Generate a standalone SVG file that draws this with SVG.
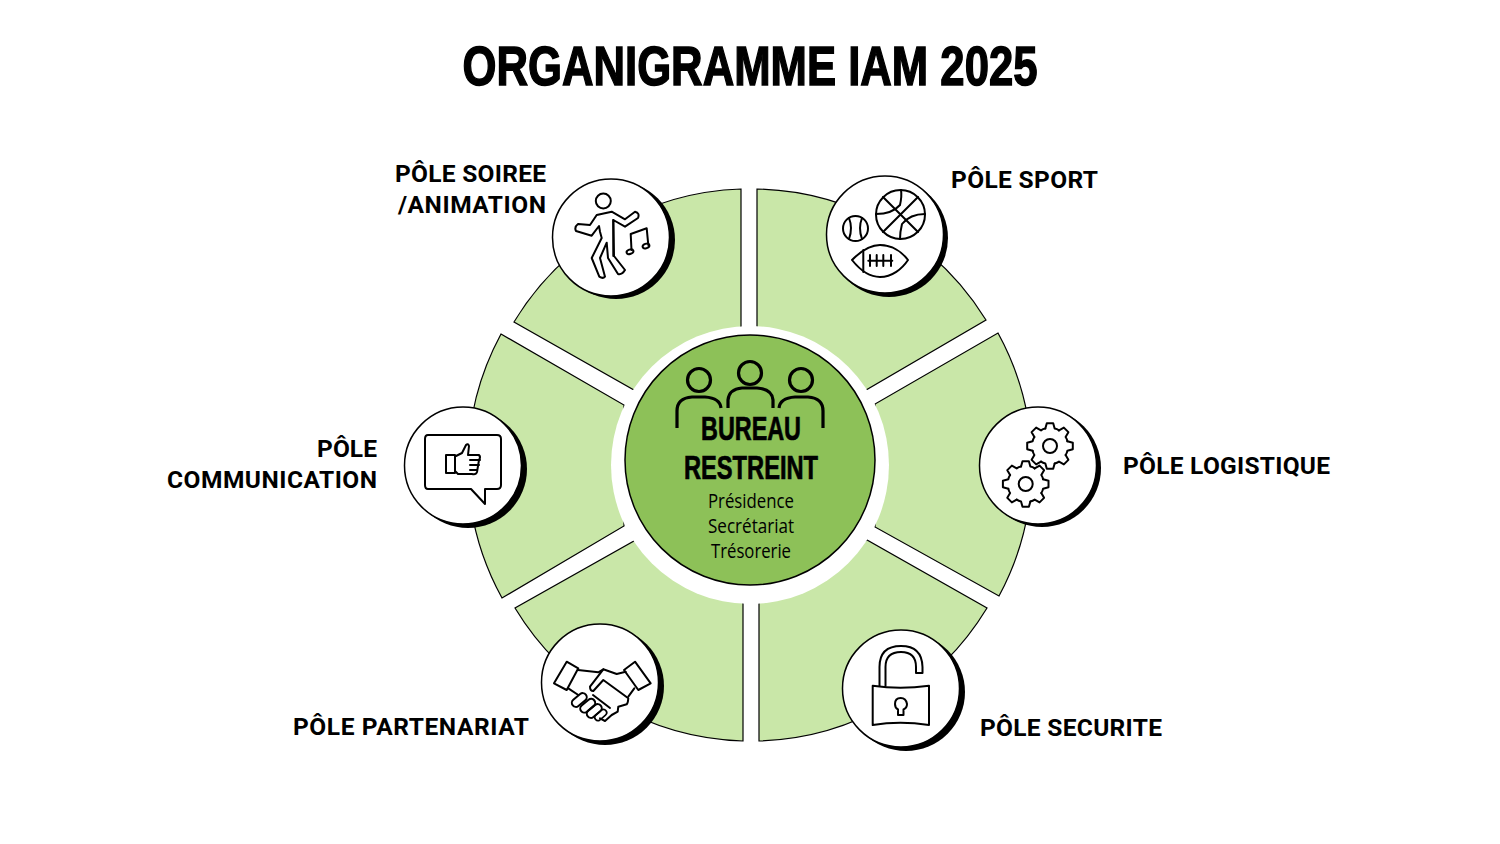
<svg xmlns="http://www.w3.org/2000/svg" width="1500" height="844" viewBox="0 0 1500 844">
<style>
.seg{fill:#c9e7a8;stroke:#000;stroke-width:1.2}
.shadow{fill:#000}
.disc{fill:#fff;stroke:#000;stroke-width:1.5}
.ic{fill:none;stroke:#000;stroke-width:2;stroke-linejoin:round;stroke-linecap:round}
.lab{font-family:Roboto,"Liberation Sans",sans-serif;font-weight:700;font-size:24.500px;fill:#000}
.head{font-family:"Liberation Sans",Arial,sans-serif;font-weight:700;fill:#000;text-anchor:middle}
.sub{font-family:"Open Sans","Liberation Sans",sans-serif;font-size:20px;fill:#000}
</style>
<defs>
<path id="tooth" d="M-4.660 -17.400L-3.200 -22.800H3.200L4.660 -17.400Q7 -17 9 -15.600"/>
<g id="gear">
<use href="#tooth"/>
<use href="#tooth" transform="rotate(45)"/>
<use href="#tooth" transform="rotate(90)"/>
<use href="#tooth" transform="rotate(135)"/>
<use href="#tooth" transform="rotate(180)"/>
<use href="#tooth" transform="rotate(225)"/>
<use href="#tooth" transform="rotate(270)"/>
<use href="#tooth" transform="rotate(315)"/>
<circle r="7"/>
</g>
<rect id="finger" x="-8.500" y="-4" width="17" height="8" rx="4"/>
</defs>
<rect width="1500" height="844" fill="#fff"/>
<text class="head" x="750" y="85" font-size="56" textLength="575" lengthAdjust="spacingAndGlyphs" stroke="#000" stroke-width="1.500">ORGANIGRAMME IAM 2025</text>

<g id="connectors">
<path class="seg" d="M741 189V327L634 390 514 322A276 276 0 0 1 741 189Z"/>
<path class="seg" d="M757 189V327L866 390 986 320A276 276 0 0 0 757 189Z"/>
<path class="seg" d="M998 333A276 276 0 0 1 999 596L875 527V404Z"/>
<path class="seg" d="M987 608A276 276 0 0 1 759 741V603L867 540Z"/>
<path class="seg" d="M743 741A276 276 0 0 1 515 608L634 541 743 603Z"/>
<path class="seg" d="M501 334L624 405V526L502 598A276 276 0 0 1 501 334Z"/>
</g>

<g id="centre">
<circle cx="750" cy="465" r="139" fill="#fff"/>
<circle cx="750" cy="460" r="125" fill="#8dc158" stroke="#000" stroke-width="1.500"/>
<g fill="none" stroke="#000" stroke-width="3.200" stroke-linecap="butt">
<circle cx="699" cy="380" r="11.500"/><circle cx="750" cy="373" r="11.500"/><circle cx="801" cy="380" r="11.500"/>
<path d="M677 428V411Q677 398 692 397H705Q720 398 721 408"/>
<path d="M728 408V400Q729 389 742 388H757Q772 389 773 400V408"/>
<path d="M779 408Q780 398 795 397H808Q823 398 823 411V428"/>
</g>
<text class="head" x="751" y="440" font-size="33" textLength="100" lengthAdjust="spacingAndGlyphs" stroke="#000" stroke-width=".7">BUREAU</text>
<text class="head" x="751" y="479" font-size="33" textLength="134" lengthAdjust="spacingAndGlyphs" stroke="#000" stroke-width=".7">RESTREINT</text>
<text class="sub" x="751" y="508" text-anchor="middle" textLength="86" lengthAdjust="spacingAndGlyphs">Présidence</text>
<text class="sub" x="751" y="533" text-anchor="middle" textLength="86" lengthAdjust="spacingAndGlyphs">Secrétariat</text>
<text class="sub" x="751" y="558" text-anchor="middle" textLength="80" lengthAdjust="spacingAndGlyphs">Trésorerie</text>
</g>

<g id="pole-soiree">
<circle class="shadow" cx="616" cy="240" r="59"/>
<circle class="disc" cx="611" cy="237.500" r="58.500"/>
<g class="ic">
<circle cx="603.300" cy="201" r="7.500"/>
<path d="M596.700 215L590 225 578 224Q574 227 576 231L591.700 235.700 599 226 600 231.700 601.700 238 591.700 258 599.300 276.700Q603 279 605 276.700L600 258 606.700 242.700 608 258 618 274Q622 275 625 270L614 256 613.300 220 625 226.700 638 218Q640 213 635 211.700L625 219.300 611.700 211.700Z"/>
<path d="M613.300 220V256"/>
<path d="M631.500 250L630.700 234 646.700 228.300 648.300 245"/>
<ellipse cx="630" cy="251.700" rx="3.500" ry="2.200" transform="rotate(-20 630 251.700)"/>
<ellipse cx="646" cy="246" rx="3.500" ry="2.200" transform="rotate(-20 646 246)"/>
</g>
<text class="lab" x="546" y="182" text-anchor="end" textLength="151">PÔLE SOIREE</text>
<text class="lab" x="546" y="213" text-anchor="end" textLength="148">/ANIMATION</text>
</g>

<g id="pole-sport">
<circle class="shadow" cx="889" cy="238" r="59"/>
<circle class="disc" cx="885" cy="234.500" r="58.500"/>
<g class="ic">
<circle cx="900.500" cy="214.500" r="24.500"/>
<path d="M883 197L918 232M883 232L918 197"/>
<path d="M876 214Q892 214 900 205 902 196 901 190M925 214Q910 214 902 224 900 232 900 239"/>
<circle cx="855.500" cy="228.500" r="12.500"/>
<path d="M849 218Q853 228 849 239M862 218Q858 228 862 239"/>
<path d="M852 260C862 250 870 245 880 245C892 245 902 252 908 260C902 269 892 277 880 277C870 277 860 270 852 260Z"/>
<path d="M863.300 250V272M868.300 260.700H892.300M870 255V266M876.700 255V266M883.300 255V266M891 255V266"/>
</g>
<text class="lab" x="951" y="188" textLength="147">PÔLE SPORT</text>
</g>

<g id="pole-logistique">
<circle class="shadow" cx="1042" cy="468" r="59"/>
<circle class="disc" cx="1038" cy="465.500" r="58.500"/>
<g class="ic">
<use href="#gear" x="1050" y="446"/>
<use href="#gear" x="1025.700" y="484"/>
</g>
<text class="lab" x="1123" y="474" textLength="207">PÔLE LOGISTIQUE</text>
</g>

<g id="pole-securite">
<circle class="shadow" cx="906" cy="692" r="59"/>
<circle class="disc" cx="901" cy="688.500" r="58.500"/>
<g class="ic" stroke-width="1.800">
<path d="M879.500 686V667Q879.500 646 901 646 922 646 922.500 667V673H916V667Q916 652 901 652 885.500 652 885.500 667V686"/>
<path d="M872.700 685.700Q900 690 929 685.700V725Q900 720.500 872.700 725Z"/>
<path d="M898 715H903.500V709.500Q907 708 907 704 906 698 900.700 698 895 698 895 704 895 708 898 709.500Z"/>
</g>
<text class="lab" x="980" y="736" textLength="182">PÔLE SECURITE</text>
</g>

<g id="pole-partenariat">
<circle class="shadow" cx="605" cy="686" r="59"/>
<circle class="disc" cx="600" cy="682.500" r="58.500"/>
<g class="ic">
<path d="M566.700 661.700L578.300 668.300 566.700 690 554 683.300ZM635 661.700L624 670 638.300 690 650.700 683.300Z"/>
<path d="M578 670L598.300 672.300 603.300 669.300 616.700 674 625.700 671.700"/>
<path d="M603.300 669.300L590 686.700Q590 691 593.300 691L603.300 680 628.300 698.300Q628 703 626.700 704.300L618.300 706.700 617.700 711.700 611.700 715 605 721 600 718.300"/>
<path d="M634.300 688.300L628.300 696.700M568.300 688.300L578.300 695M593 695L610 708"/>
<use href="#finger" transform="translate(579.300 700) rotate(-40)"/>
<use href="#finger" transform="translate(587.700 705.700) rotate(-40)"/>
<use href="#finger" transform="translate(594.300 711) rotate(-40)"/>
<use href="#finger" transform="translate(600.700 715) rotate(-40) scale(.8)"/>
</g>
<text class="lab" x="293" y="735" textLength="236">PÔLE PARTENARIAT</text>
</g>

<g id="pole-communication">
<circle class="shadow" cx="468" cy="469" r="59"/>
<circle class="disc" cx="463" cy="465.500" r="58.500"/>
<g class="ic">
<path d="M428 435H497Q501 435 501 439V485Q501 489 497 489H485V504L471 489H428Q425 489 425 485V439Q425 435 428 435Z"/>
<path d="M446 455H455V473H446Z"/>
<path d="M456 456L462 453 466 445Q468 443 469 446L468 455H479Q481 457 479 460L477 472Q476 475 472 474H458L455 471"/>
<path d="M470 460H480M470 465H479M470 470H477"/>
</g>
<text class="lab" x="377" y="457" text-anchor="end" textLength="60">PÔLE</text>
<text class="lab" x="377" y="488" text-anchor="end" textLength="210">COMMUNICATION</text>
</g>
</svg>
